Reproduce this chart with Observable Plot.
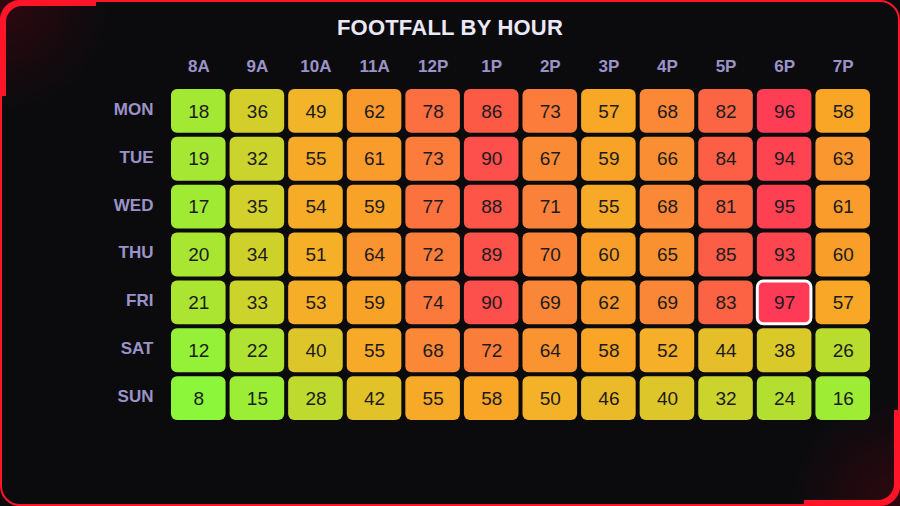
<!DOCTYPE html>
<html>
<head>
<meta charset="utf-8">
<script src="https://cdn.jsdelivr.net/npm/d3@7"></script>
<script src="https://cdn.jsdelivr.net/npm/@observablehq/plot@0.6"></script>
<style>
  html, body { margin: 0; padding: 0; background: #0b0b0e; }
  #wrap { position: relative; width: 900px; height: 506px; overflow: hidden; background: #0b0b0e; font-family: "Liberation Sans", Arial, sans-serif; }
  #frame { position: absolute; left: 0; top: 0; width: 896px; height: 502px; border: 2px solid #ff1428; border-radius: 20px; pointer-events: none; }
  .glow { position: absolute; width: 140px; height: 140px; pointer-events: none; }
  #glowTL { left: 0; top: 0; background: radial-gradient(circle at 0 0, rgba(140,0,20,0.28), rgba(140,0,20,0) 55%); }
  #glowBR { right: 0; bottom: 0; background: radial-gradient(circle at 100% 100%, rgba(140,0,20,0.28), rgba(140,0,20,0) 55%); }
  .acc { position: absolute; width: 96px; height: 96px; pointer-events: none; box-sizing: border-box; }
  #accTL { left: 0; top: 0; border-top: 6px solid #ff1428; border-left: 6px solid #ff1428; border-top-left-radius: 22px; }
  #accBR { right: 0; bottom: 0; border-bottom: 6px solid #ff1428; border-right: 6px solid #ff1428; border-bottom-right-radius: 22px; }
  #title { position: relative; height: 31px; padding-top: 14px; line-height: 28px; text-align: center; color: #ebe8f7; font-weight: bold; font-size: 22px; letter-spacing: 0.2px; }
  #chart { position: relative; }
</style>
</head>
<body>
<div id="wrap">
  <div class="glow" id="glowTL"></div>
  <div class="glow" id="glowBR"></div>
  <div id="title">FOOTFALL BY HOUR</div>
  <div id="chart"></div>
  <div id="frame"></div>
  <div class="acc" id="accTL"></div>
  <div class="acc" id="accBR"></div>
</div>
<script>
const days = ["MON", "TUE", "WED", "THU", "FRI", "SAT", "SUN"];
const hours = ["8A", "9A", "10A", "11A", "12P", "1P", "2P", "3P", "4P", "5P", "6P", "7P"];
const mon = [18, 36, 49, 62, 78, 86, 73, 57, 68, 82, 96, 58];
const tue = [19, 32, 55, 61, 73, 90, 67, 59, 66, 84, 94, 63];
const wed = [17, 35, 54, 59, 77, 88, 71, 55, 68, 81, 95, 61];
const thu = [20, 34, 51, 64, 72, 89, 70, 60, 65, 85, 93, 60];
const fri = [21, 33, 53, 59, 74, 90, 69, 62, 69, 83, 97, 57];
const sat = [12, 22, 40, 55, 68, 72, 64, 58, 52, 44, 38, 26];
const sun = [8, 15, 28, 42, 55, 58, 50, 46, 40, 32, 24, 16];
const rows = [mon, tue, wed, thu, fri, sat, sun];

const colorStops = [8, 20, 35, 50, 58, 68, 78, 88, 97];
const colorRange = ["#8cf73a", "#a8e632", "#d2d02a", "#f4b228", "#f9a526", "#fa8836", "#fb6f40", "#fd5548", "#ff3a56"];

const data = [];
rows.forEach((r, i) => r.forEach((v, j) => data.push({day: days[i], hour: hours[j], value: v})));
const maxVal = d3.max(data, d => d.value);
const peak = data.filter(d => d.value === maxVal);

const plot = Plot.plot({
  width: 900,
  height: 461,
  marginLeft: 169,
  marginRight: 28,
  marginTop: 42,
  marginBottom: 84,
  style: {background: "transparent", fontFamily: "'Liberation Sans', Arial, sans-serif", overflow: "visible"},
  x: {domain: hours, padding: 0, round: false},
  y: {domain: days, padding: 0, round: false},
  color: {type: "linear", domain: colorStops, range: colorRange, interpolate: "rgb"},
  marks: [
    Plot.axisX({anchor: "top", tickSize: 0, tickPadding: 16, fontSize: 17, fontWeight: "bold", fill: "#9b93c8", label: null}),
    Plot.axisY({anchor: "left", tickSize: 0, tickPadding: 16, dy: -2, fontSize: 17, fontWeight: "bold", fill: "#9b93c8", label: null}),
    Plot.cell(data, {x: "hour", y: "day", fill: "value", inset: 2, rx: 6}),
    Plot.cell(peak, {x: "hour", y: "day", fill: "value", stroke: "#ffffff", strokeWidth: 3, inset: 2.5, rx: 6}),
    Plot.text(data, {x: "hour", y: "day", text: "value", fill: "#1b1b1f", fontSize: 19})
  ]
});
document.getElementById("chart").appendChild(plot);
</script>
</body>
</html>
